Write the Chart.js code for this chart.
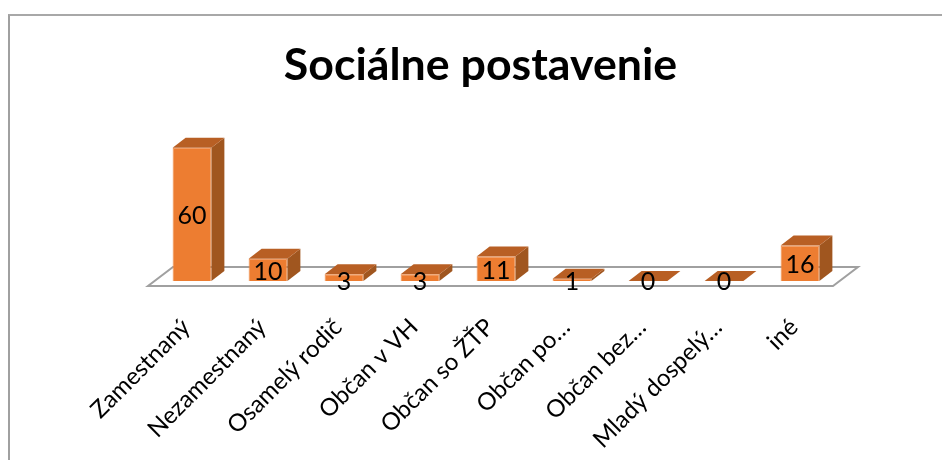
<!DOCTYPE html>
<html>
<head>
<meta charset="utf-8">
<style>
  html, body { margin: 0; padding: 0; background: #fff; overflow: hidden; }
  #wrap { position: relative; width: 942px; height: 460px; }
  #frame { position: absolute; left: 8px; top: 14px; right: 0; bottom: 0; border-left: 2px solid #a0a0a0; border-top: 2px solid #a8a8a8; }
</style>
<script src="https://cdn.jsdelivr.net/npm/chart.js@4"></script>
</head>
<body>
<div id="wrap">
  <div id="frame"></div>
  <canvas id="chart" width="942" height="460" style="position:absolute;left:0;top:0"></canvas>
</div>
<script>
const categories = ["Zamestnaný", "Nezamestnaný", "Osamelý rodič", "Občan v VH", "Občan so ŽŤP", "Občan po…", "Občan bez…", "Mladý dospelý…", "iné"];
const values = [60, 10, 3, 3, 11, 1, 0, 0, 16];

const depthX = 13;
const depthY = 10;

// 3D look: floor behind the bars, then the side and top faces of each bar
const fake3d = {
  id: "fake3d",
  beforeDatasetsDraw(chart) {
    const { ctx, chartArea, scales } = chart;
    const base = scales.y.getPixelForValue(0);
    const l = chartArea.left - 6, r = chartArea.right - 5, front = base + 5;
    ctx.save();
    ctx.strokeStyle = "#a0a0a0";
    ctx.lineWidth = 2;
    ctx.beginPath();
    ctx.moveTo(l, front);
    ctx.lineTo(r, front);
    ctx.lineTo(r + 25, front - 19);
    ctx.lineTo(l + 25, front - 19);
    ctx.closePath();
    ctx.stroke();
    chart.getDatasetMeta(0).data.forEach(bar => {
      const x0 = bar.x - bar.width / 2, x1 = bar.x + bar.width / 2;
      ctx.fillStyle = "#a0561f";
      ctx.beginPath();
      ctx.moveTo(x1, bar.y);
      ctx.lineTo(x1 + depthX, bar.y - depthY);
      ctx.lineTo(x1 + depthX, base - depthY);
      ctx.lineTo(x1, base);
      ctx.closePath();
      ctx.fill();
      ctx.fillStyle = "#b85f24";
      ctx.beginPath();
      ctx.moveTo(x0, bar.y);
      ctx.lineTo(x0 + depthX, bar.y - depthY);
      ctx.lineTo(x1 + depthX, bar.y - depthY);
      ctx.lineTo(x1, bar.y);
      ctx.closePath();
      ctx.fill();
    });
    ctx.restore();
  },
  afterDatasetsDraw(chart) {
    const { ctx, scales } = chart;
    const base = scales.y.getPixelForValue(0);
    ctx.save();
    ctx.fillStyle = "#000";
    ctx.font = "25px Lato";
    ctx.textAlign = "center";
    ctx.textBaseline = "middle";
    chart.getDatasetMeta(0).data.forEach((bar, i) => {
      const y = (bar.y + base) / 2;
      ctx.fillText(values[i], bar.x, values[i] < 5 ? base + 1 : y + 2);
    });
    ctx.restore();
  }
};

new Chart(document.getElementById("chart"), {
  type: "bar",
  plugins: [fake3d],
  data: {
    labels: categories,
    datasets: [{
      data: values,
      backgroundColor: "#ed7d31",
      borderColor: "#ef8c49",
      borderWidth: 1,
      barPercentage: 0.51,
      categoryPercentage: 1
    }]
  },
  options: {
    responsive: false,
    animation: false,
    layout: { padding: { left: 123, right: 104, top: 0, bottom: 0 } },
    plugins: {
      legend: { display: false },
      tooltip: { enabled: false },
      title: {
        display: true,
        text: "Sociálne postavenie",
        color: "#000",
        font: { family: "Lato", size: 44.7, weight: "bold" },
        padding: { top: 39, bottom: 55 }
      }
    },
    scales: {
      // hidden axis, only there to hold the plot away from the title's centre
      y: {
        min: 0,
        max: 60,
        grid: { display: false },
        border: { display: false },
        ticks: { display: false },
        afterFit(scale) { scale.width = 31; }
      },
      x: {
        grid: { display: false },
        border: { display: false },
        ticks: {
          color: "#000",
          font: { family: "Lato", size: 24 },
          minRotation: 45,
          maxRotation: 45,
          autoSkip: false,
          padding: 24,
          labelOffset: -6
        },
        afterFit(scale) {
          scale.height = 179;
          scale.paddingLeft = 0;
          scale.paddingRight = 0;
        }
      }
    }
  }
});
</script>
</body>
</html>
